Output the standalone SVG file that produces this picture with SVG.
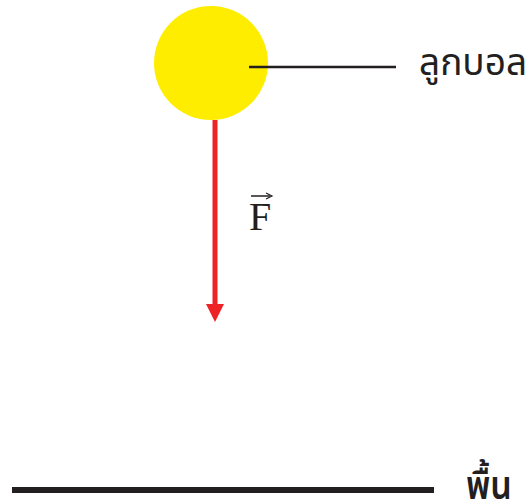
<svg xmlns="http://www.w3.org/2000/svg" width="530" height="504" viewBox="0 0 530 504">
<style>
.th{font-family:"Noto Sans","Noto Sans Thai","DejaVu Sans",sans-serif;fill:#231f20}
.f{font-family:"Liberation Serif","Times New Roman",serif;font-size:40px;fill:#231f20}
</style>
<rect width="530" height="504" fill="#fff"/>
<g id="ball">
<circle cx="211" cy="63" r="57" fill="#ffed00"/>
</g>
<g id="ball-label">
<text class="th" x="419" y="75" font-size="37">ลูกบอล</text>
</g>
<g id="ground">
<line x1="12" y1="490" x2="434" y2="490" stroke="#231f20" stroke-width="6"/>
</g>
<g id="ground-label">
<text class="th" x="466" y="499" font-size="39" font-weight="600" textLength="46" lengthAdjust="spacingAndGlyphs">พื้น</text>
</g>
<g id="force-label">
<text class="f" x="249" y="230">F</text>
<line x1="251" y1="196" x2="270" y2="196" stroke="#231f20" stroke-width="1.5"/>
<path d="M266,193 L272,196 L266,199" fill="none" stroke="#231f20" stroke-width="1.2"/>
</g>
<g id="connectors">
<line x1="249" y1="67" x2="396" y2="67" stroke="#231f20" stroke-width="2.5"/>
<line x1="215" y1="120" x2="215" y2="306" stroke="#ee2326" stroke-width="5"/>
<path d="M206,304 L224,304 L215,322 Z" fill="#ee2326"/>
</g>
</svg>
